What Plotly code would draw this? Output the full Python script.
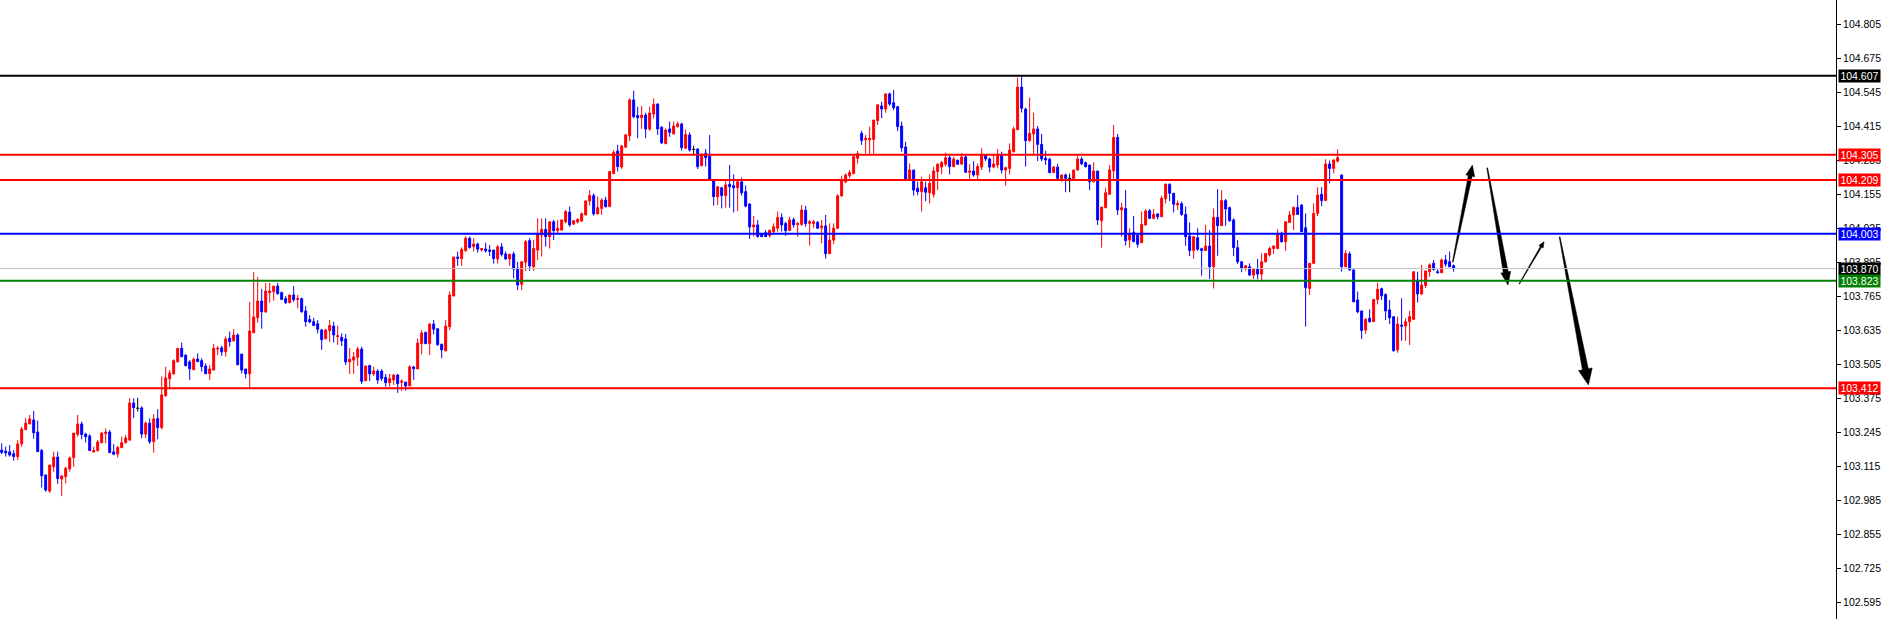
import plotly.graph_objects as go

# ---------------- data (prices) ----------------
open_ = [
    103.176,103.172,103.169,103.162,103.151,103.200,103.254,103.276,103.291,103.245,
    103.174,103.081,103.019,103.112,103.149,103.065,103.074,103.104,103.147,103.236,
    103.276,103.237,103.230,103.169,103.174,103.204,103.239,103.245,103.169,103.161,
    103.185,103.204,103.214,103.356,103.336,103.337,103.237,103.279,103.208,103.297,
    103.262,103.384,103.449,103.468,103.514,103.565,103.539,103.513,103.483,103.524,
    103.518,103.497,103.468,103.482,103.562,103.567,103.552,103.604,103.594,103.616,
    103.543,103.486,103.468,103.625,103.682,103.746,103.704,103.778,103.782,103.803,
    103.778,103.755,103.740,103.769,103.752,103.755,103.708,103.675,103.667,103.659,
    103.635,103.602,103.633,103.650,103.610,103.607,103.601,103.513,103.520,103.531,
    103.562,103.441,103.499,103.467,103.478,103.478,103.454,103.434,103.444,103.463,
    103.435,103.436,103.421,103.494,103.486,103.583,103.626,103.583,103.658,103.640,
    103.581,103.555,103.648,103.765,103.914,103.908,103.938,103.986,103.954,103.964,
    103.941,103.945,103.941,103.941,103.907,103.953,103.926,103.907,103.926,103.871,
    103.810,103.894,103.977,103.877,103.941,103.998,104.020,103.992,104.049,104.015,
    104.017,104.049,104.086,104.040,104.048,104.052,104.075,104.128,104.149,104.079,
    104.100,104.132,104.107,104.233,104.320,104.258,104.334,104.378,104.515,104.455,
    104.447,104.457,104.404,104.461,104.499,104.410,104.348,104.404,104.385,104.413,
    104.423,104.330,104.381,104.326,104.327,104.264,104.311,104.300,104.205,104.145,
    104.179,104.149,104.192,104.187,104.179,104.202,104.164,104.117,104.029,104.037,
    104.001,104.007,103.996,104.011,104.024,104.065,104.042,104.016,104.057,104.038,
    104.039,104.093,104.043,104.042,104.047,104.026,104.033,103.927,103.979,104.024,
    104.148,104.202,104.225,104.233,104.292,104.387,104.363,104.363,104.364,104.436,
    104.492,104.480,104.538,104.504,104.489,104.415,104.335,104.209,104.247,104.177,
    104.164,104.179,104.160,104.154,104.241,104.258,104.269,104.294,104.260,104.285,
    104.270,104.297,104.238,104.243,104.228,104.258,104.304,104.289,104.258,104.266,
    104.304,104.247,104.253,104.317,104.401,104.564,104.480,104.359,104.385,104.404,
    104.345,104.292,104.288,104.237,104.258,104.213,104.228,104.215,104.213,104.247,
    104.289,104.275,104.266,104.202,104.243,104.053,104.103,104.154,104.244,104.371,
    104.094,104.100,103.979,104.009,103.998,103.969,104.037,104.091,104.062,104.079,
    104.068,104.137,104.192,104.158,104.113,104.118,104.077,103.995,103.939,103.988,
    103.946,103.939,103.956,103.877,104.066,104.034,104.130,104.103,104.056,103.950,
    103.896,103.871,103.877,103.845,103.868,103.849,103.896,103.922,103.947,103.947,
    104.005,103.973,104.046,104.075,104.104,104.113,104.026,103.794,103.890,104.081,
    104.154,104.130,104.270,104.253,104.281,104.228,103.877,103.926,103.865,103.750,
    103.708,103.635,103.680,103.667,103.752,103.793,103.771,103.712,103.686,103.559,
    103.654,103.650,103.667,103.676,103.826,103.773,103.805,103.858,103.890,103.858,
    103.854,103.903,103.896,103.881,
]
high = [
    103.202,103.189,103.195,103.176,103.214,103.265,103.299,103.310,103.325,103.288,
    103.180,103.081,103.119,103.170,103.170,103.081,103.112,103.151,103.241,103.310,
    103.285,103.242,103.237,103.189,103.214,103.246,103.259,103.253,103.199,103.192,
    103.227,103.234,103.374,103.374,103.376,103.344,103.285,103.297,103.314,103.332,
    103.457,103.494,103.482,103.523,103.565,103.587,103.543,103.520,103.530,103.546,
    103.527,103.508,103.501,103.582,103.574,103.575,103.610,103.629,103.639,103.622,
    103.543,103.486,103.742,103.857,103.838,103.792,103.815,103.815,103.803,103.815,
    103.782,103.765,103.769,103.803,103.769,103.759,103.727,103.692,103.682,103.673,
    103.640,103.640,103.673,103.667,103.652,103.622,103.620,103.566,103.551,103.571,
    103.571,103.500,103.502,103.495,103.485,103.485,103.467,103.467,103.467,103.467,
    103.446,103.436,103.501,103.497,103.603,103.635,103.629,103.660,103.673,103.640,
    103.581,103.673,103.782,103.914,103.935,103.951,103.994,103.992,103.986,103.969,
    103.947,103.969,103.960,103.941,103.960,103.967,103.935,103.925,103.935,103.896,
    103.899,103.979,103.986,103.979,104.062,104.062,104.062,104.049,104.056,104.056,
    104.056,104.094,104.107,104.056,104.062,104.084,104.132,104.170,104.158,104.145,
    104.139,104.145,104.244,104.323,104.343,104.343,104.385,104.521,104.550,104.489,
    104.492,104.466,104.489,104.521,104.502,104.415,104.406,104.432,104.432,104.432,
    104.428,104.402,104.391,104.340,104.330,104.311,104.327,104.381,104.205,104.183,
    104.183,104.209,104.266,104.230,104.209,104.218,104.187,104.119,104.071,104.056,
    104.001,104.017,104.017,104.043,104.088,104.081,104.049,104.068,104.065,104.047,
    104.113,104.110,104.056,104.056,104.052,104.056,104.075,104.043,104.043,104.154,
    104.225,104.234,104.247,104.304,104.320,104.397,104.381,104.413,104.438,104.499,
    104.508,104.540,104.543,104.553,104.492,104.432,104.355,104.272,104.247,104.202,
    104.221,104.202,104.230,104.260,104.272,104.281,104.314,104.304,104.298,104.285,
    104.311,104.307,104.269,104.281,104.272,104.330,104.307,104.294,104.304,104.327,
    104.317,104.260,104.349,104.413,104.600,104.607,104.485,104.524,104.466,104.415,
    104.385,104.320,104.294,104.262,104.271,104.228,104.233,104.233,104.247,104.301,
    104.298,104.279,104.266,104.276,104.243,104.105,104.179,104.266,104.419,104.385,
    104.122,104.170,104.024,104.071,103.998,104.088,104.098,104.098,104.098,104.081,
    104.149,104.196,104.196,104.158,104.130,104.126,104.107,104.046,103.992,104.024,
    103.950,104.037,104.017,104.100,104.174,104.170,104.136,104.107,104.062,103.979,
    103.899,103.881,103.890,103.871,103.907,103.928,103.928,103.954,103.960,104.020,
    104.011,104.052,104.090,104.107,104.151,104.116,104.081,103.890,104.119,104.181,
    104.181,104.288,104.283,104.288,104.326,104.228,103.941,103.935,103.867,103.782,
    103.708,103.680,103.714,103.752,103.816,103.797,103.775,103.750,103.686,103.686,
    103.756,103.680,103.708,103.858,103.858,103.884,103.861,103.890,103.903,103.867,
    103.909,103.922,103.935,103.886,
]
low = [
    103.161,103.151,103.151,103.135,103.138,103.189,103.253,103.276,103.219,103.170,
    103.033,103.017,103.013,103.093,103.047,103.000,103.049,103.093,103.112,103.227,
    103.217,103.205,103.174,103.166,103.170,103.202,103.202,103.166,103.156,103.147,
    103.185,103.202,103.214,103.299,103.323,103.221,103.221,103.199,103.166,103.217,
    103.255,103.380,103.412,103.463,103.510,103.531,103.495,103.444,103.482,103.514,
    103.476,103.467,103.444,103.480,103.539,103.536,103.533,103.571,103.590,103.502,
    103.469,103.450,103.412,103.622,103.663,103.640,103.701,103.740,103.747,103.770,
    103.750,103.734,103.737,103.743,103.718,103.701,103.648,103.661,103.652,103.622,
    103.559,103.599,103.590,103.587,103.578,103.574,103.501,103.467,103.467,103.497,
    103.429,103.441,103.440,103.459,103.429,103.440,103.418,103.418,103.425,103.395,
    103.402,103.403,103.421,103.444,103.486,103.542,103.581,103.539,103.618,103.575,
    103.527,103.555,103.635,103.765,103.880,103.880,103.935,103.946,103.935,103.931,
    103.935,103.931,103.918,103.889,103.889,103.916,103.903,103.881,103.833,103.788,
    103.788,103.861,103.861,103.861,103.903,103.916,103.954,103.947,103.979,104.005,
    104.017,104.043,104.030,104.037,104.043,104.049,104.075,104.111,104.072,104.077,
    104.075,104.103,104.107,104.233,104.241,104.251,104.332,104.358,104.444,104.368,
    104.404,104.368,104.396,104.444,104.381,104.346,104.345,104.374,104.383,104.409,
    104.321,104.327,104.317,104.302,104.251,104.260,104.260,104.205,104.111,104.113,
    104.100,104.103,104.103,104.085,104.090,104.149,104.104,103.984,103.992,103.988,
    103.992,103.992,103.988,103.998,104.011,104.011,103.995,104.014,104.026,103.992,
    104.034,104.030,103.958,104.024,104.024,103.967,103.908,103.927,103.963,104.021,
    104.145,104.196,104.215,104.232,104.271,104.343,104.311,104.309,104.309,104.419,
    104.445,104.466,104.492,104.476,104.396,104.317,104.205,104.205,104.149,104.151,
    104.088,104.128,104.119,104.141,104.170,104.230,104.260,104.230,104.258,104.266,
    104.266,104.238,104.213,104.221,104.209,104.247,104.281,104.238,104.253,104.253,
    104.233,104.187,104.230,104.314,104.401,104.467,104.260,104.355,104.302,104.281,
    104.281,104.266,104.234,104.237,104.213,104.202,104.162,104.162,104.213,104.244,
    104.266,104.256,104.170,104.199,104.037,103.950,104.100,104.154,104.205,104.075,
    103.992,103.958,103.951,103.970,103.950,103.969,104.034,104.059,104.058,104.058,
    104.068,104.119,104.128,104.085,104.094,104.072,103.957,103.918,103.907,103.938,
    103.843,103.939,103.830,103.794,103.919,104.034,104.034,104.049,103.918,103.887,
    103.856,103.862,103.842,103.830,103.830,103.820,103.893,103.916,103.926,103.944,
    103.969,103.938,104.046,104.017,104.075,104.011,103.648,103.769,103.887,104.071,
    104.109,104.130,104.196,104.234,104.275,103.858,103.875,103.862,103.741,103.699,
    103.601,103.620,103.663,103.667,103.733,103.750,103.673,103.658,103.552,103.548,
    103.594,103.594,103.578,103.673,103.740,103.769,103.795,103.839,103.862,103.852,
    103.854,103.877,103.875,103.858,
]
close = [
    103.167,103.165,103.157,103.151,103.199,103.256,103.279,103.295,103.242,103.170,
    103.078,103.023,103.119,103.149,103.067,103.077,103.106,103.146,103.241,103.276,
    103.235,103.227,103.174,103.174,103.207,103.241,103.245,103.166,103.160,103.186,
    103.204,103.222,103.356,103.338,103.336,103.237,103.279,103.208,103.295,103.262,
    103.387,103.452,103.471,103.518,103.565,103.533,103.499,103.487,103.523,103.514,
    103.495,103.468,103.486,103.565,103.565,103.551,103.601,103.590,103.616,103.502,
    103.482,103.468,103.631,103.685,103.746,103.705,103.784,103.784,103.803,103.774,
    103.752,103.740,103.769,103.751,103.755,103.705,103.667,103.666,103.652,103.638,
    103.598,103.635,103.652,103.616,103.613,103.593,103.513,103.523,103.532,103.562,
    103.439,103.497,103.467,103.478,103.444,103.450,103.434,103.449,103.463,103.430,
    103.440,103.421,103.494,103.487,103.585,103.624,103.583,103.658,103.638,103.579,
    103.559,103.650,103.769,103.914,103.909,103.943,103.986,103.951,103.964,103.944,
    103.947,103.938,103.936,103.908,103.953,103.924,103.907,103.925,103.868,103.807,
    103.896,103.973,103.880,103.947,104.003,104.020,103.992,104.049,104.015,104.024,
    104.056,104.088,104.037,104.053,104.058,104.080,104.128,104.149,104.079,104.103,
    104.132,104.107,104.241,104.314,104.260,104.339,104.381,104.515,104.451,104.447,
    104.457,104.404,104.465,104.498,104.404,104.351,104.400,104.391,104.415,104.423,
    104.332,104.383,104.323,104.326,104.260,104.307,104.294,104.209,104.145,104.183,
    104.149,104.190,104.183,104.179,104.202,104.160,104.109,104.029,104.037,103.993,
    103.992,103.992,104.017,104.030,104.065,104.037,104.015,104.056,104.037,104.042,
    104.094,104.042,104.049,104.049,104.024,104.033,103.927,103.979,104.024,104.148,
    104.205,104.228,104.237,104.298,104.309,104.360,104.368,104.368,104.438,104.496,
    104.480,104.538,104.499,104.485,104.413,104.332,104.209,104.247,104.170,104.164,
    104.202,104.162,104.196,104.243,104.269,104.276,104.294,104.260,104.289,104.269,
    104.297,104.238,104.243,104.228,104.260,104.307,104.289,104.258,104.270,104.301,
    104.247,104.256,104.323,104.404,104.564,104.483,104.359,104.387,104.404,104.345,
    104.289,104.285,104.237,104.258,104.215,104.228,104.215,104.215,104.247,104.289,
    104.271,104.260,104.202,104.243,104.056,104.105,104.160,104.247,104.371,104.094,
    104.103,103.977,104.001,103.973,103.963,104.039,104.090,104.062,104.077,104.068,
    104.139,104.192,104.158,104.116,104.119,104.077,103.992,103.939,103.992,103.944,
    103.939,103.956,103.877,104.066,104.034,104.130,104.098,104.053,103.950,103.896,
    103.871,103.881,103.845,103.867,103.849,103.896,103.928,103.947,103.956,104.005,
    103.973,104.049,104.075,104.104,104.077,104.011,103.797,103.890,104.081,104.151,
    104.130,104.270,104.253,104.285,104.294,103.877,103.928,103.865,103.743,103.705,
    103.633,103.676,103.667,103.752,103.791,103.766,103.708,103.682,103.556,103.658,
    103.650,103.667,103.686,103.858,103.773,103.807,103.861,103.884,103.867,103.854,
    103.903,103.887,103.877,103.871,
]

# horizontal price levels drawn on the chart
level_prices = [104.607, 104.305, 104.209, 104.003, 103.870, 103.823, 103.412]

# right-axis tick values
tick_values = [102.595, 102.725, 102.855, 102.985, 103.115, 103.245, 103.375,
               103.505, 103.635, 103.765, 103.895, 104.025, 104.155, 104.285,
               104.415, 104.545, 104.675, 104.805]

# projected-path arrows (bar index, price)
arrow_from_x = [362.8, 371.4, 379.4, 389.5]
arrow_from_y = [103.895, 104.255, 103.811, 103.991]
arrow_to_x = [367.7, 376.6, 385.6, 396.7]
arrow_to_y = [104.266, 103.807, 103.973, 103.425]

# ---------------- styles ----------------
level_colors = ["#000000", "#FF0000", "#FF0000", "#0000FF", "#C0C0C0", "#008000", "#FF0000"]
level_widths = [2, 2, 2, 2, 1, 2, 2]
label_bg = ["#000000", "#FF0000", "#FF0000", "#0000FF", "#000000", "#008000", "#FF0000"]
# arrow geometry in pixels: tail width, shaft width at head, head width, head length
arrow_style = [(0.8, 4.0, 9.0, 11.0), (0.8, 5.0, 10.0, 13.0),
               (0.6, 1.5, 5.0, 6.0), (0.8, 6.0, 14.0, 16.0)]

W, H = 1881, 619
ML, MR, MT, MB = 0, 45, 0, 0
X_RANGE = [-0.425, 458.6]
Y_RANGE = [102.530, 104.897]
FONT = "Liberation Sans, Arial, sans-serif"

n = len(close)
idx = list(range(n))
is_doji = [abs(open_[i] - close[i]) < 1e-9 for i in idx]
main_i = [i for i in idx if not is_doji[i]]
doji_i = [i for i in idx if is_doji[i]]

fig = go.Figure()
fig.add_trace(go.Candlestick(
    x=main_i,
    open=[open_[i] for i in main_i], high=[high[i] for i in main_i],
    low=[low[i] for i in main_i], close=[close[i] for i in main_i],
    increasing=dict(line=dict(color="#FF0000", width=1), fillcolor="#FF0000"),
    decreasing=dict(line=dict(color="#0000FF", width=1), fillcolor="#0000FF"),
    whiskerwidth=0, hoverinfo="skip", showlegend=False,
))

# doji candles (open == close) drawn as black crosses
dx, dy = [], []
for i in doji_i:
    dx += [i, i, None, i - 0.4, i + 0.4, None]
    dy += [low[i], high[i], None, open_[i], open_[i], None]
fig.add_trace(go.Scatter(x=dx, y=dy, mode="lines", line=dict(color="#000000", width=1),
                         hoverinfo="skip", showlegend=False))

# tapered arrows
pw = W - ML - MR
ph = H - MT - MB
sx = pw / (X_RANGE[1] - X_RANGE[0])
sy = ph / (Y_RANGE[1] - Y_RANGE[0])
for k in range(len(arrow_from_x)):
    w0, w1, wh, hl = arrow_style[k]
    x0, y0 = arrow_from_x[k] * sx, arrow_from_y[k] * sy
    x1, y1 = arrow_to_x[k] * sx, arrow_to_y[k] * sy
    vx, vy = x1 - x0, y1 - y0
    L = (vx * vx + vy * vy) ** 0.5
    ux, uy = vx / L, vy / L
    nx, ny = -uy, ux
    bx, by = x1 - ux * hl, y1 - uy * hl
    pts = [
        (x0 + nx * w0 / 2, y0 + ny * w0 / 2),
        (bx + nx * w1 / 2, by + ny * w1 / 2),
        (bx + nx * wh / 2, by + ny * wh / 2),
        (x1, y1),
        (bx - nx * wh / 2, by - ny * wh / 2),
        (bx - nx * w1 / 2, by - ny * w1 / 2),
        (x0 - nx * w0 / 2, y0 - ny * w0 / 2),
    ]
    fig.add_trace(go.Scatter(
        x=[p[0] / sx for p in pts] + [pts[0][0] / sx],
        y=[p[1] / sy for p in pts] + [pts[0][1] / sy],
        mode="lines", fill="toself", fillcolor="#000000",
        line=dict(color="#000000", width=0.5),
        hoverinfo="skip", showlegend=False,
    ))

# horizontal level lines
for p, c, w in zip(level_prices, level_colors, level_widths):
    fig.add_shape(type="line", xref="paper", x0=0, x1=1, yref="y", y0=p, y1=p,
                  line=dict(color=c, width=w), layer="above")

# price labels on the right axis
for p, bg in zip(level_prices, label_bg):
    fig.add_annotation(
        xref="paper", x=1, xanchor="left", xshift=2,
        yref="y", y=p, yanchor="middle",
        text=f"{p:.3f}", showarrow=False,
        font=dict(family=FONT, size=10.5, color="#FFFFFF"),
        bgcolor=bg, borderpad=0, width=41, height=12, align="center",
    )

fig.update_layout(
    width=W, height=H,
    margin=dict(l=ML, r=MR, t=MT, b=MB, pad=0),
    paper_bgcolor="#FFFFFF", plot_bgcolor="#FFFFFF",
    showlegend=False, hovermode=False,
    xaxis=dict(range=X_RANGE, visible=False, showgrid=False, zeroline=False,
               rangeslider=dict(visible=False), fixedrange=True),
    yaxis=dict(range=Y_RANGE, side="right", showgrid=False, zeroline=False,
               tickvals=tick_values, ticktext=[f"{v:.3f}" for v in tick_values],
               ticks="outside", ticklen=4, tickcolor="#000000", tickwidth=1,
               tickfont=dict(family=FONT, size=10.5, color="#000000"),
               showline=True, linecolor="#000000", linewidth=1, fixedrange=True),
)

fig.write_html("out.html", config={"displayModeBar": False},
               post_script="document.body.style.margin='0';document.body.style.overflow='hidden';")
